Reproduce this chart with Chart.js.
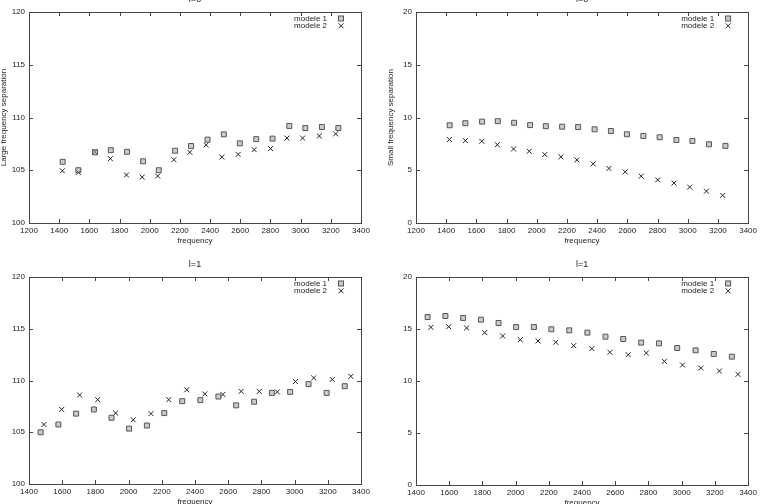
<!DOCTYPE html>
<html>
<head>
<meta charset="utf-8">
<script src="https://cdn.jsdelivr.net/npm/chart.js@4.4.0/dist/chart.umd.min.js"></script>
<style>
html, body { margin:0; padding:0; background:#fff; overflow:hidden; width:763px; height:504px; position:relative; }
.panel { position:absolute; }
</style>
</head>
<body>
<div class="panel" style="left:-7px;top:-15px"><canvas id="c1" width="380" height="264"></canvas></div>
<div class="panel" style="left:380px;top:-15px"><canvas id="c2" width="380" height="264"></canvas></div>
<div class="panel" style="left:-7px;top:250px"><canvas id="c3" width="380" height="260"></canvas></div>
<div class="panel" style="left:380px;top:250px"><canvas id="c4" width="380" height="261"></canvas></div>
<script>
// mode frequencies (l=0 and l=1), two models
const freqL0m1 = [1423,1527,1638,1742,1850,1956,2060,2168,2274,2383,2491,2597,2706,2814,2925,3031,3141,3250]
const freqL0m2 = [1421,1527,1636,1739,1846,1950,2053,2160,2266,2374,2478,2586,2692,2801,2909,3013,3124,3232]
const freqL1m1 = [1470,1577,1684,1791,1897,2003,2110,2215,2323,2432,2541,2648,2756,2863,2973,3084,3193,3302]
const freqL1m2 = [1490,1597,1705,1814,1922,2028,2135,2242,2350,2459,2568,2678,2787,2896,3005,3115,3227,3339]

// large frequency separation
const largeL0m1 = [105.8,105.0,106.7,106.9,106.75,105.85,105.0,106.85,107.3,107.9,108.4,107.55,107.95,108.0,109.2,109.0,109.1,109.0]
const largeL0m2 = [104.95,104.8,106.75,106.1,104.55,104.35,104.45,106.0,106.7,107.4,106.25,106.5,106.95,107.05,108.05,108.05,108.25,108.45]
const largeL1m1 = [105.0,105.75,106.8,107.2,106.4,105.35,105.65,106.85,108.0,108.1,108.45,107.6,107.95,108.8,108.9,109.65,108.8,109.45]
const largeL1m2 = [105.75,107.2,108.6,108.15,106.85,106.2,106.8,108.15,109.1,108.7,108.65,108.95,108.95,108.9,109.9,110.25,110.1,110.4]

// small frequency separation
const smallL0m1 = [9.26,9.46,9.61,9.65,9.5,9.28,9.18,9.13,9.1,8.88,8.72,8.41,8.25,8.13,7.87,7.78,7.46,7.31]
const smallL0m2 = [7.91,7.81,7.74,7.42,7.02,6.8,6.49,6.27,5.98,5.61,5.17,4.85,4.44,4.09,3.78,3.4,3.02,2.61]
const smallL1m1 = [16.15,16.25,16.06,15.9,15.58,15.19,15.19,14.97,14.87,14.65,14.26,14.04,13.69,13.62,13.17,12.95,12.6,12.34]
const smallL1m2 = [15.16,15.22,15.1,14.65,14.33,13.97,13.85,13.72,13.4,13.11,12.76,12.53,12.69,11.89,11.54,11.25,10.96,10.64]

const seriesNames = ['modele 1', 'modele 2']

const FONT = "'Liberation Sans', Arial, sans-serif"
const TXT = '#222'

function pts(xs, ys) {
  return xs.map((x, i) => ({ x: x, y: ys[i] }))
}

function drawMark(ctx, style, x, y) {
  ctx.save()
  if (style == 'rect') {
    ctx.fillStyle = 'rgba(160,160,160,0.55)'
    ctx.strokeStyle = '#555'
    ctx.lineWidth = 1
    ctx.fillRect(x - 2.5, y - 2.5, 5, 5)
    ctx.strokeRect(x - 2.5, y - 2.5, 5, 5)
  } else {
    ctx.strokeStyle = '#222'
    ctx.lineWidth = 1
    ctx.beginPath()
    ctx.moveTo(x - 2.5, y - 2.5); ctx.lineTo(x + 2.5, y + 2.5)
    ctx.moveTo(x + 2.5, y - 2.5); ctx.lineTo(x - 2.5, y + 2.5)
    ctx.stroke()
  }
  ctx.restore()
}

// frame with inward ticks on all four sides, gnuplot style
const framePlugin = {
  id: 'frame',
  afterDatasetsDraw(chart) {
    const ctx = chart.ctx
    const a = chart.chartArea
    const xs = chart.scales.x, ys = chart.scales.y
    ctx.save()
    ctx.strokeStyle = '#444'
    ctx.lineWidth = 1
    ctx.beginPath()
    xs.ticks.forEach(t => {
      const px = Math.round(xs.getPixelForValue(t.value)) + 0.5
      ctx.moveTo(px, a.bottom); ctx.lineTo(px, a.bottom - 4)
      ctx.moveTo(px, a.top); ctx.lineTo(px, a.top + 4)
    })
    ys.ticks.forEach(t => {
      const py = Math.round(ys.getPixelForValue(t.value)) + 0.5
      ctx.moveTo(a.left, py); ctx.lineTo(a.left + 4, py)
      ctx.moveTo(a.right, py); ctx.lineTo(a.right - 4, py)
    })
    ctx.stroke()
    ctx.strokeRect(Math.round(a.left) + 0.5, Math.round(a.top) + 0.5, Math.round(a.width), Math.round(a.height))
    ctx.restore()
  }
}

// key in the top right corner: text right aligned, symbol on its right
const keyPlugin = {
  id: 'key',
  afterDatasetsDraw(chart) {
    const ctx = chart.ctx
    const a = chart.chartArea
    ctx.save()
    ctx.font = '8px ' + FONT
    ctx.fillStyle = TXT
    ctx.textAlign = 'right'
    ctx.textBaseline = 'middle'
    chart.data.datasets.forEach((ds, i) => {
      const y = a.top + 6.5 + i * 7.3
      ctx.fillText(ds.label, a.right - 34, y)
      drawMark(ctx, ds.pointStyle, a.right - 20, y)
    })
    ctx.restore()
  }
}

function makePanel(id, title, ytitle, xmin, ymin, ymax, padRight, d1, d2) {
  return new Chart(document.getElementById(id), {
    type: 'scatter',
    data: {
      datasets: [
        { label: seriesNames[0], data: d1, pointStyle: 'rect', pointRadius: 3.5, pointHoverRadius: 3.5,
          backgroundColor: 'rgba(160,160,160,0.55)', borderColor: '#555', borderWidth: 1 },
        { label: seriesNames[1], data: d2, pointStyle: 'crossRot', pointRadius: 3.5, pointHoverRadius: 3.5,
          borderColor: '#222', borderWidth: 1 }
      ]
    },
    options: {
      responsive: false,
      animation: false,
      layout: { padding: { left: 0, right: padRight, top: 0, bottom: 0 } },
      plugins: {
        legend: { display: false },
        tooltip: { enabled: false },
        title: {
          display: true, text: title, fullSize: false, color: TXT,
          font: { family: FONT, size: 9, weight: 'normal' },
          padding: { top: 9.6, bottom: 6.6 }
        }
      },
      scales: {
        x: {
          type: 'linear', min: xmin, max: 3400,
          afterFit: s => { s.height = 26 },
          grid: { display: false, drawTicks: false, tickLength: 0 }, border: { display: false },
          ticks: { stepSize: 200, padding: 3, color: TXT, font: { family: FONT, size: 8 }, maxRotation: 0,
                   callback: v => String(v) },
          title: { display: true, text: 'frequency', color: TXT, font: { family: FONT, size: 8 }, padding: { top: 0, bottom: 3.2 } }
        },
        y: {
          min: ymin, max: ymax,
          afterFit: s => { s.width = 36 },
          grid: { display: false, drawTicks: false, tickLength: 0 }, border: { display: false },
          ticks: { stepSize: 5, padding: 4, color: TXT, font: { family: FONT, size: 8 }, callback: v => String(v) },
          title: { display: ytitle != '', text: ytitle, color: TXT, font: { family: FONT, size: 8 }, padding: { top: 6, bottom: 0 } }
        }
      }
    },
    plugins: [framePlugin, keyPlugin]
  })
}

makePanel('c1', 'l=0', 'Large frequency separation', 1200, 100, 120, 12, pts(freqL0m1, largeL0m1), pts(freqL0m2, largeL0m2))
makePanel('c2', 'l=0', 'Small frequency separation', 1200, 0, 20, 8, pts(freqL0m1, smallL0m1), pts(freqL0m2, smallL0m2))
makePanel('c3', 'l=1', '', 1400, 100, 120, 12, pts(freqL1m1, largeL1m1), pts(freqL1m2, largeL1m2))
makePanel('c4', 'l=1', '', 1400, 0, 20, 8, pts(freqL1m1, smallL1m1), pts(freqL1m2, smallL1m2))
</script>
</body>
</html>
